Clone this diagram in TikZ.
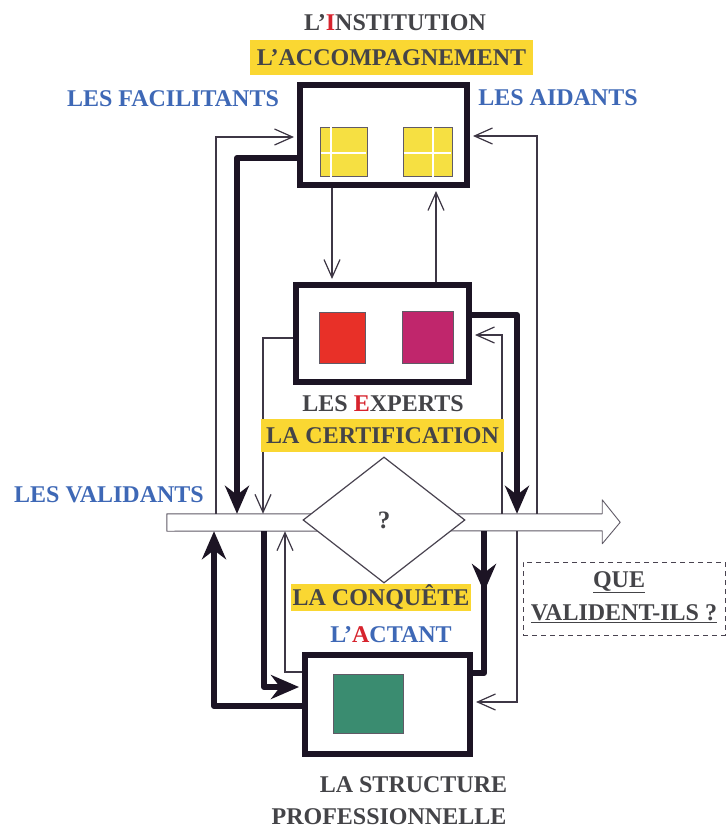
\documentclass[tikz,border=0pt]{standalone}
\usepackage{fontspec}
\setmainfont{Liberation Serif}
\usetikzlibrary{arrows.meta,shapes.geometric}
\definecolor{ink}{RGB}{28,20,36}
\definecolor{txt}{RGB}{68,68,72}
\definecolor{blu}{RGB}{62,104,182}
\definecolor{rd}{RGB}{215,35,45}
\definecolor{hl}{RGB}{250,215,50}
\definecolor{sqy}{RGB}{246,224,66}
\definecolor{sqr}{RGB}{232,48,40}
\definecolor{sqm}{RGB}{192,38,108}
\definecolor{sqg}{RGB}{58,140,112}
\begin{document}
\begin{tikzpicture}[x=1pt,y=-1pt,
  lbl/.style={font=\fontsize{24}{28}\selectfont\bfseries, text=txt, inner sep=0pt, text height=16pt, text depth=0pt},
  blbl/.style={lbl, text=blu},
  hlbox/.style={lbl, fill=hl},
  bigbox/.style={draw=ink, line width=6pt, rectangle, inner sep=0pt, fill=white},
  sq/.style={draw=ink!70, line width=0.7pt, inner sep=0pt},
  thinc/.style={draw=ink!85, line width=1.2pt, -{Straight Barb[length=18pt,width=16pt]}},
  thickc/.style={draw=ink, line width=6pt, line join=round, -{Stealth[length=28pt,width=24pt,inset=9pt]}},
  thickl/.style={draw=ink, line width=6pt, line join=round},
  grid/.style={white, line width=2pt},
]
\useasboundingbox (0,0) rectangle (727,830);
\fill[white] (0,0) rectangle (727,830);

% band and diamond
\node[minimum width=435pt, minimum height=17pt, inner sep=0pt] (band) at (384.5,522.5) {};
\draw[draw=ink!70, line width=0.9pt, fill=white, line join=round]
  (band.north west) -- (band.north east) -- ++(0,-14) -- ++(18,22.5) -- ++(-18,21.5) -- ++(0,-13) -- (band.south west) -- cycle;
\node[diamond, draw=ink!80, line width=1.2pt, fill=white, minimum width=162pt, minimum height=126pt, inner sep=0pt, aspect=1.29] (dia) at (384,520) {};
\node[lbl, font=\fontsize{25}{28}\selectfont\bfseries] (qm) at (dia.center) {?};

% boxes
\node[bigbox, minimum width=167pt, minimum height=100pt] (inst) at (383.5,135) {};
\node[bigbox, minimum width=173pt, minimum height=97pt] (exp) at (382.5,333.5) {};
\node[bigbox, minimum width=165pt, minimum height=99pt] (struct) at (387.5,704.5) {};

% connectors upper part
\draw[thinc, shorten >=3pt] (band.north -| 216,0) |- (inst.west |- 0,137);
\draw[thickc] (inst.west |- 0,158) -| (band.north -| 237,0);
\draw[thinc] (exp.west |- 0,338) -| (band.north -| 263,0);
\draw[thinc, shorten >=3pt] (band.north -| 537,0) |- (inst.east |- 0,136);
\draw[thickc] (exp.east |- 0,315) -| (band.north -| 517,0);
\draw[thinc, shorten >=3pt] (band.north -| 502,0) |- (exp.east |- 0,335);
\draw[thinc, shorten >=3pt] (inst.south -| 332,0) -- (exp.north -| 332,0);
\draw[thinc, shorten >=3pt] (exp.north -| 436,0) -- (inst.south -| 436,0);

% connectors lower part
\draw[thickc] (struct.west |- 0,706) -| (band.south -| 214,0);
\draw[thickc, shorten >=3pt] (band.south -| 264,0) |- (struct.west |- 0,687);
\draw[thinc] (struct.west |- 0,672) -| (band.south -| 285,0);
\draw[thickl] (band.south -| 484,0) |- (struct.east |- 0,673);
\coordinate (mid) at (484,592);
\draw[thickc] (band.south -| 484,0) -- (mid);
\draw[thinc, shorten >=3pt] (band.south -| 517,0) |- (struct.east |- 0,702);

% redraw box borders on top
\node[draw=ink, line width=6pt, minimum width=167pt, minimum height=100pt, inner sep=0pt] at (inst.center) {};
\node[draw=ink, line width=6pt, minimum width=173pt, minimum height=97pt, inner sep=0pt] at (exp.center) {};
\node[draw=ink, line width=6pt, minimum width=165pt, minimum height=99pt, inner sep=0pt] at (struct.center) {};

% squares
\node[sq, fill=sqy, minimum width=47pt, minimum height=49pt] (y1) at (343.5,151.5) {};
\draw[grid] ([yshift=1pt]y1.north -| 331,0) -- ([yshift=-1pt]y1.south -| 331,0);
\draw[grid] ([xshift=1pt]y1.west |- 0,153) -- ([xshift=-1pt]y1.east |- 0,153);
\node[sq, fill=sqy, minimum width=49pt, minimum height=49pt] (y2) at (427.5,151.5) {};
\draw[grid] ([yshift=1pt]y2.north -| 433,0) -- ([yshift=-1pt]y2.south -| 433,0);
\draw[grid] ([xshift=1pt]y2.west |- 0,153) -- ([xshift=-1pt]y2.east |- 0,153);
\node[sq, fill=sqr, minimum width=46pt, minimum height=51pt] (r1) at (342,337.5) {};
\node[sq, fill=sqm, minimum width=51pt, minimum height=52pt] (m1) at (427.5,337) {};
\node[sq, fill=sqg, minimum width=70pt, minimum height=59pt] (g1) at (368,703.5) {};

% texts
\node[lbl] (tinst) at (395,22) {L’\textcolor{rd}{I}NSTITUTION};
\node[hlbox, minimum width=283pt, minimum height=35pt] (tacc) at (391.5,57.5) {L’ACCOMPAGNEMENT};
\node[blbl] (tfac) at (173,98) {LES FACILITANTS};
\node[blbl] (taid) at (558,97) {LES AIDANTS};
\node[lbl] (texp) at (383,403) {LES \textcolor{rd}{E}XPERTS};
\node[hlbox, minimum width=243pt, minimum height=33pt] (tcert) at (382.5,435.5) {LA CERTIFICATION};
\node[blbl] (tval) at (109,494) {LES VALIDANTS};
\node[hlbox, minimum width=180pt, minimum height=27pt] (tconq) at (381,597) {LA CONQUÊTE};
\node[blbl] (tact) at (391,634) {L’\textcolor{rd}{A}CTANT};
\node[draw=ink!80, dash pattern=on 5pt off 4pt, line width=0.9pt, minimum width=202pt, minimum height=73pt, inner sep=0pt] (qbox) at (624,598.5) {};
\node[lbl] (tque) at (619,579) {\underline{QUE}};
\node[lbl] (tvil) at (624,612) {\underline{VALIDENT-ILS ?}};
\node[lbl] (tls) at (413.5,784) {LA STRUCTURE};
\node[lbl] (tpro) at (389,816) {PROFESSIONNELLE};
\end{tikzpicture}
\end{document}
